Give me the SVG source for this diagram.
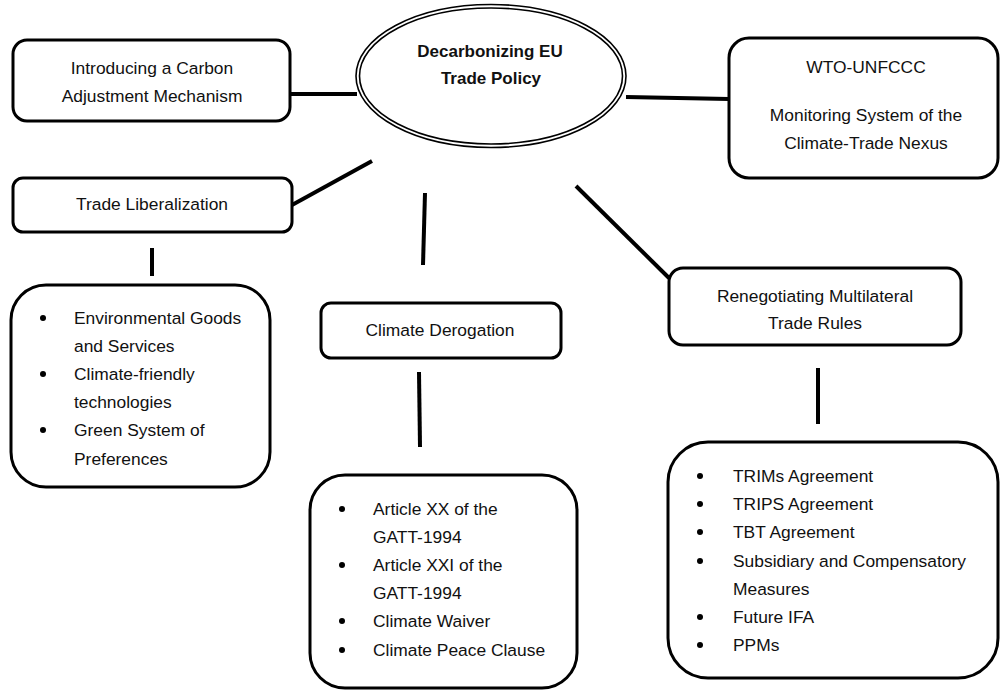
<svg xmlns="http://www.w3.org/2000/svg" width="1000" height="692" viewBox="0 0 1000 692">
<style>
.box{fill:#fff;stroke:#000;stroke-width:3}
.ell{fill:none;stroke:#000;stroke-width:1.6}
.c{stroke:#000;stroke-width:4;fill:none}
text{font-family:"Liberation Sans",Arial,sans-serif;font-size:17.4px;fill:#111}
.m{text-anchor:middle}
.b{font-weight:bold;font-size:17px}
.dot{fill:#000}
</style>
<rect width="1000" height="692" fill="#fff"/>
<g id="connectors">
<line class="c" x1="290" y1="94" x2="357" y2="94"/>
<line class="c" x1="626" y1="97" x2="729" y2="99"/>
<line class="c" x1="292" y1="205" x2="372" y2="161"/>
<line class="c" x1="152" y1="248" x2="152" y2="276"/>
<line class="c" x1="425" y1="193" x2="423" y2="265"/>
<line class="c" x1="419" y1="372" x2="420" y2="447"/>
<line class="c" x1="576" y1="186" x2="669" y2="278"/>
<line class="c" x1="818" y1="368" x2="818" y2="424"/>
</g>
<g id="center">
<ellipse class="ell" cx="491" cy="76" rx="135" ry="71.5"/>
<ellipse class="ell" cx="491" cy="76" rx="131.5" ry="68"/>
<text class="m b" x="490" y="57">Decarbonizing EU</text>
<text class="m b" x="491" y="84">Trade Policy</text>
</g>
<g id="carbon">
<rect class="box" x="13" y="40" width="277" height="81" rx="14"/>
<text class="m" x="152" y="74">Introducing a Carbon</text>
<text class="m" x="152" y="102">Adjustment Mechanism</text>
</g>
<g id="wto">
<rect class="box" x="729" y="38" width="269" height="140" rx="20"/>
<text class="m" x="866" y="73">WTO-UNFCCC</text>
<text class="m" x="866" y="121">Monitoring System of the</text>
<text class="m" x="866" y="149">Climate-Trade Nexus</text>
</g>
<g id="liberalization">
<rect class="box" x="13" y="178" width="279" height="54" rx="10"/>
<text class="m" x="152" y="210">Trade Liberalization</text>
</g>
<g id="liberalization-list">
<rect class="box" x="11" y="285" width="259" height="202" rx="35"/>
<circle class="dot" cx="43" cy="318" r="3"/>
<circle class="dot" cx="43" cy="374" r="3"/>
<circle class="dot" cx="43" cy="430" r="3"/>
<text x="74" y="324">Environmental Goods</text>
<text x="74" y="352">and Services</text>
<text x="74" y="380">Climate-friendly</text>
<text x="74" y="408">technologies</text>
<text x="74" y="436">Green System of</text>
<text x="74" y="465">Preferences</text>
</g>
<g id="derogation">
<rect class="box" x="321" y="303" width="240" height="55" rx="10"/>
<text class="m" x="440" y="336">Climate Derogation</text>
</g>
<g id="derogation-list">
<rect class="box" x="310" y="475" width="267" height="213" rx="35"/>
<circle class="dot" cx="342" cy="509" r="3"/>
<circle class="dot" cx="342" cy="565" r="3"/>
<circle class="dot" cx="342" cy="621" r="3"/>
<circle class="dot" cx="342" cy="650" r="3"/>
<text x="373" y="515">Article XX of the</text>
<text x="373" y="543">GATT-1994</text>
<text x="373" y="571">Article XXI of the</text>
<text x="373" y="599">GATT-1994</text>
<text x="373" y="627">Climate Waiver</text>
<text x="373" y="656">Climate Peace Clause</text>
</g>
<g id="renegotiating">
<rect class="box" x="669" y="268" width="292" height="77" rx="14"/>
<text class="m" x="815" y="302">Renegotiating Multilateral</text>
<text class="m" x="815" y="329">Trade Rules</text>
</g>
<g id="renegotiating-list">
<rect class="box" x="668" y="442" width="330" height="236" rx="40"/>
<circle class="dot" cx="700" cy="476" r="3"/>
<circle class="dot" cx="700" cy="504" r="3"/>
<circle class="dot" cx="700" cy="532" r="3"/>
<circle class="dot" cx="700" cy="561" r="3"/>
<circle class="dot" cx="700" cy="617" r="3"/>
<circle class="dot" cx="700" cy="645" r="3"/>
<text x="733" y="482">TRIMs Agreement</text>
<text x="733" y="510">TRIPS Agreement</text>
<text x="733" y="538">TBT Agreement</text>
<text x="733" y="567">Subsidiary and Compensatory</text>
<text x="733" y="595">Measures</text>
<text x="733" y="623">Future IFA</text>
<text x="733" y="651">PPMs</text>
</g>
</svg>
